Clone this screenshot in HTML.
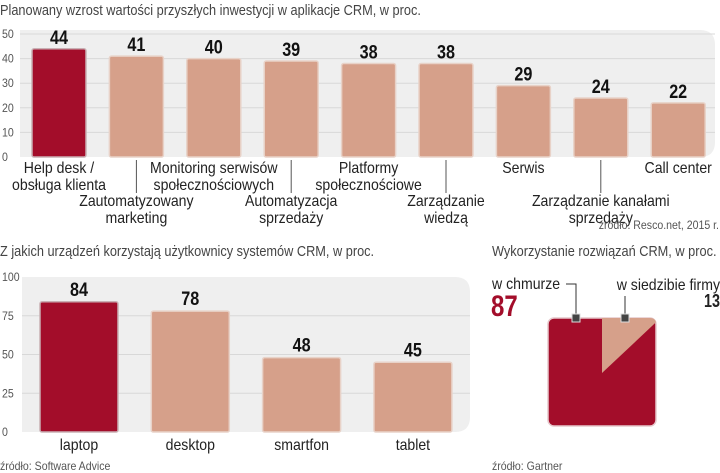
<!DOCTYPE html>
<html><head><meta charset="utf-8">
<style>
html,body{margin:0;padding:0;background:#fff;}
svg{display:block;font-family:"Liberation Sans",sans-serif;}
</style></head>
<body>
<svg id="s" width="720" height="473" viewBox="0 0 720 473"></svg>
<script>
// Top chart data
const topCats = [["Help desk /","obsługa klienta"],["Zautomatyzowany","marketing"],["Monitoring serwisów","społecznościowych"],["Automatyzacja","sprzedaży"],["Platformy","społecznościowe"],["Zarządzanie","wiedzą"],["Serwis"],["Zarządzanie kanałami","sprzedaży"],["Call center"]];
const topVals = [44,41,40,39,38,38,29,24,22];
const topTicks = [0,10,20,30,40,50];
// Bottom chart data
const botCats = ["laptop","desktop","smartfon","tablet"];
const botVals = [84,78,48,45];
const botTicks = [0,25,50,75,100];
// Square pie data
const pieLabels = ["w chmurze","w siedzibie firmy"];
const pieVals = [87,13];

const NS="http://www.w3.org/2000/svg";
const s=document.getElementById('s');
const RED="#a30d2a", PINK="#d6a08a";
function el(tag,attrs,parent){const e=document.createElementNS(NS,tag);for(const k in attrs)e.setAttribute(k,attrs[k]);(parent||s).appendChild(e);return e;}
const toCondense=[];
function txt(str,x,y,size,opts){opts=opts||{};const t=el('text',{x:x,y:y,'font-size':size,fill:opts.fill||'#222','text-anchor':opts.anchor||'start','font-weight':opts.bold?'bold':'normal'});t.textContent=str;toCondense.push([t,opts.cond||0.88]);return t;}

// ---------- Top chart ----------
const tY0=157, tPer=123/50;
const ty=v=>tY0-v*tPer;
const tx=i=>32+i*77.4;
const tBW=54;
let t;
t=txt("Planowany wzrost wartości przyszłych inwestycji w aplikacje CRM, w proc.",0,15,15,{fill:'#444',cond:0.85});

let r=el('path',{d:"M20 30 H700 Q715 30 715 45 V142 Q715 157 700 157 H20 Z",fill:'#efefef'});

topTicks.forEach(v=>{
  if(v>0){const g=el('line',{x1:20,x2:715,y1:ty(v),y2:ty(v),stroke:'#d8d8d8','stroke-width':1});
  }
  const l=txt(String(v),2,ty(v)+4,12,{fill:'#555'});
  
});
topVals.forEach((v,i)=>{
  const x=tx(i);
  const b=el('rect',{x:x,y:ty(v),width:tBW,height:tY0-ty(v),fill:i===0?RED:PINK,stroke:i===0?'#c9b0b4':'#e8d2c8','stroke-width':1.5,rx:2});
  
  const vl=txt(String(v),x+tBW/2,ty(v)-5,19,{bold:true,anchor:'middle',fill:'#111',cond:0.85});
  
  const cx=x+tBW/2, lines=topCats[i], low=i%2===1;
  const by=low?206:173;
  if(low){const tk=el('line',{x1:cx,x2:cx,y1:160,y2:193,stroke:'#555','stroke-width':1});
    }
  lines.forEach((ln,j)=>{const c=txt(ln,cx,by+j*17,16,{anchor:'middle',fill:'#222'});
    });
});
t=txt("źródło: Resco.net, 2015 r.",719,229,12,{anchor:'end',fill:'#555'});


// ---------- Bottom chart ----------
const bY0=432, bPer=155/100;
const by_=v=>bY0-v*bPer;
const bx=i=>40+i*111.3;
const bBW=78;
t=txt("Z jakich urządzeń korzystają użytkownicy systemów CRM, w proc.",0,256,15,{fill:'#444',cond:0.85});

r=el('path',{d:"M22 277 H455 Q470 277 470 292 V417 Q470 432 455 432 H22 Z",fill:'#efefef'});

botTicks.forEach(v=>{
  if(v>0&&v<100){const g=el('line',{x1:22,x2:470,y1:by_(v),y2:by_(v),stroke:'#d8d8d8','stroke-width':1});
  }
  const l=txt(String(v),2,by_(v)+4,12,{fill:'#555'});
  
});
botVals.forEach((v,i)=>{
  const x=bx(i);
  const b=el('rect',{x:x,y:by_(v),width:bBW,height:bY0-by_(v),fill:i===0?RED:PINK,stroke:i===0?'#c9b0b4':'#e8d2c8','stroke-width':1.5,rx:2});
  
  const vl=txt(String(v),x+bBW/2,by_(v)-6,19,{bold:true,anchor:'middle',fill:'#111',cond:0.85});
  
  const c=txt(botCats[i],x+bBW/2,450,16,{anchor:'middle',fill:'#222'});
  
});
t=txt("źródło: Software Advice",0,470,12,{fill:'#555'});


// ---------- Square pie ----------
t=txt("Wykorzystanie rozwiązań CRM, w proc.",492,256,15,{fill:'#444',cond:0.85});

const sqX=548, sqY=318, sqS=108, pcx=sqX+sqS/2, pcy=sqY+sqS/2+1;
const sq=el('rect',{x:sqX,y:sqY,width:sqS,height:sqS,rx:6,fill:RED,stroke:'#e6c8cc','stroke-width':1.5});

const total=pieVals[0]+pieVals[1];
const ang=pieVals[1]/total*2*Math.PI;
const dx=Math.sin(ang), dy=-Math.cos(ang);
const k=Math.min((sqS/2)/Math.abs(dx),(sqS/2+1)/Math.abs(dy));
const ex=pcx+dx*k, ey=pcy+dy*k;
let d="M"+pcx+" "+pcy+" L"+pcx+" "+sqY;
if(ex>=sqX+sqS-0.5&&ey>sqY+1) d+=" L"+(sqX+sqS-6)+" "+sqY+" Q"+(sqX+sqS)+" "+sqY+" "+(sqX+sqS)+" "+(sqY+6);
d+=" L"+ex+" "+ey+" Z";
const w=el('path',{d:d,fill:PINK});

const l1=el('polyline',{points:"576,318 576,284 566,284",fill:'none',stroke:'#333','stroke-width':1});

const l2=el('polyline',{points:"625,318 625,296",fill:'none',stroke:'#333','stroke-width':1});

[576,625].forEach(x=>{const m=el('rect',{x:x-4,y:314,width:8,height:8,fill:'#444',stroke:'#ddd','stroke-width':1});
  });
t=txt(pieLabels[0],492,289,16,{fill:'#222'});

t=txt(String(pieVals[0]),491,316,30,{bold:true,fill:RED,cond:0.8});

t=txt(pieLabels[1],720,290,16,{anchor:'end',fill:'#222'});

t=txt(String(pieVals[1]),720,307,18,{anchor:'end',bold:true,fill:'#222',cond:0.8});

t=txt("źródło: Gartner",492,470,12,{fill:'#555'});


toCondense.forEach(([t,f])=>{const L=t.getComputedTextLength();if(L>0){t.setAttribute('textLength',(L*f).toFixed(1));t.setAttribute('lengthAdjust','spacingAndGlyphs');}});
</script>
</body></html>
